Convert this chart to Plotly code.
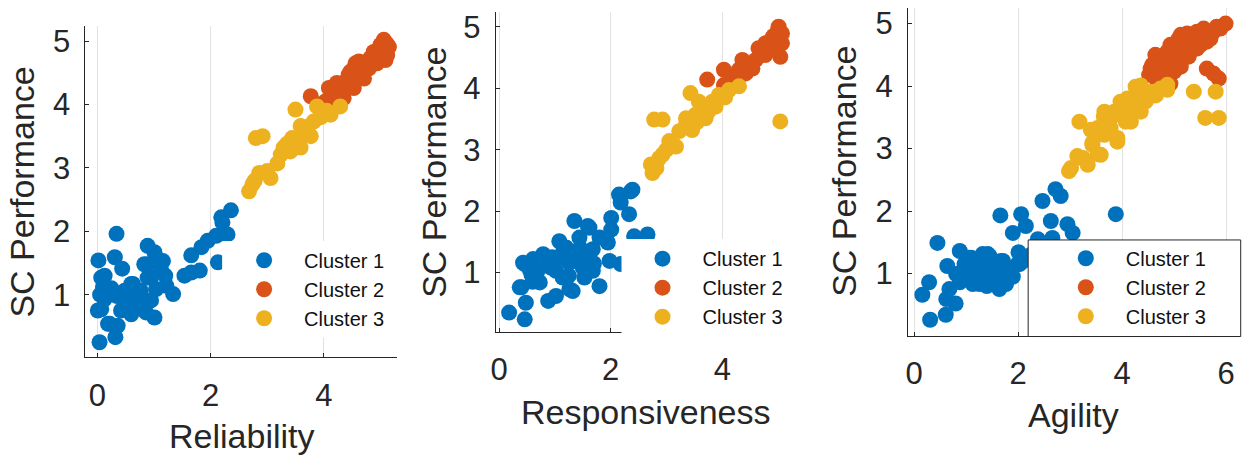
import plotly.graph_objects as go

# ---------------- data ----------------
clusters = ["Cluster 1", "Cluster 2", "Cluster 3"]
colors = ["#0072BD", "#D95319", "#EDB120"]
x_titles = ["Reliability", "Responsiveness", "Agility"]
y_title = "SC Performance"
x_ticks = [[0, 2, 4], [0, 2, 4], [0, 2, 4, 6]]
y_ticks = [1, 2, 3, 4, 5]

# Panel 1 : Reliability
rel_c1_x = [0.04,0.32,0.34,0.02,0.31,0.44,0.13,0.10,0.13,0.07,0.22,0.36,0.42,0.34,0.54,0.63,0.78,0.75,0.89,1.01,
            1.10,0.89,0.95,1.04,1.13,1.01,0.86,0.95,0.60,0.48,1.34,1.22,1.54,1.66,1.81,1.66,1.84,1.95,2.10,2.25,
            2.13,2.19,2.36,2.30,2.21,0.19,0.01,0.07,0.77,0.60,0.83,0.89,1.16,0.05,0.25,0.70,1.20,0.50]
rel_c1_y = [0.25,0.33,1.96,1.54,1.59,1.41,1.30,1.12,0.93,0.77,0.54,0.51,0.75,0.98,0.88,1.17,0.80,1.04,1.77,1.67,
            1.54,1.48,1.27,1.09,1.38,0.64,0.72,0.91,0.69,1.06,1.01,1.14,1.30,1.35,1.38,1.62,1.75,1.85,1.93,1.96,
            1.51,2.22,2.33,1.95,2.14,0.54,0.75,1.27,1.06,1.17,1.48,1.27,1.53,1.00,1.10,0.95,1.30,0.85]
rel_c2_x = [3.77,4.03,4.09,4.23,4.35,4.47,4.59,4.56,4.70,4.76,4.82,4.88,5.00,5.06,5.09,5.09,4.94,4.65,4.47,4.41,
            4.23,4.15,4.94,5.03,5.11,4.00,4.26,4.44,4.62,4.80,4.92,5.12,5.15,4.71,4.53,4.35,4.18,4.98,5.05,4.85]
rel_c2_y = [4.13,4.05,4.26,4.20,4.28,4.36,4.41,4.65,4.52,4.62,4.73,4.83,4.94,5.02,4.83,4.70,4.65,4.57,4.52,4.39,
            4.34,4.15,4.78,4.88,4.96,4.02,4.31,4.47,4.68,4.57,4.83,4.78,4.91,4.41,4.26,4.10,4.07,4.75,4.85,4.70]
rel_c3_x = [2.68,2.74,2.86,3.06,2.80,2.92,3.18,3.29,3.44,3.59,3.68,3.82,3.50,3.94,4.12,4.29,3.77,3.59,3.41,3.24,
            3.88,2.78,3.00,3.35,3.55,3.72,3.95,4.05,3.62,3.48]
rel_c3_y = [2.63,2.74,2.92,2.84,3.47,3.50,3.07,3.32,3.47,3.32,3.58,3.73,3.92,3.89,3.84,3.97,3.50,3.66,3.26,3.21,
            3.97,2.80,2.95,3.38,3.45,3.65,3.80,3.90,3.55,3.40]

# Panel 2 : Responsiveness
res_c1_x = [0.18,0.46,0.48,0.40,0.46,0.61,0.79,0.58,0.73,0.88,1.02,1.08,0.93,1.26,1.35,1.59,1.44,1.41,1.26,1.68,
            1.80,1.53,1.68,1.95,1.98,2.01,2.01,2.33,2.18,2.39,2.18,1.80,1.14,0.67,0.88,1.50,1.20,1.02,2.42,2.66,
            2.18,0.43,0.37,1.62,1.32,2.36,2.15,0.55,1.10,1.45,0.70,0.95,1.15,1.30,1.55,1.70,0.60,1.25]
res_c1_y = [0.35,0.24,0.51,0.76,1.14,1.22,1.30,0.97,0.84,0.54,0.62,1.51,1.08,0.73,1.84,1.76,1.57,1.24,1.16,1.03,
            0.78,0.92,1.38,1.49,1.19,1.89,1.70,1.95,2.24,2.35,2.14,1.57,0.92,0.97,1.14,1.08,1.41,1.03,1.59,1.62,
            1.14,1.16,0.76,1.73,0.70,2.32,2.27,1.05,1.25,1.40,1.05,1.25,1.35,1.20,1.30,1.15,0.85,0.95]
res_c2_x = [3.73,4.03,4.03,4.27,4.36,4.54,4.65,4.77,4.89,5.01,5.07,5.07,5.04,4.77,4.42,4.18,4.60,4.95,4.85,4.70,
            4.50,5.00,4.30,4.92]
res_c2_y = [4.14,4.30,4.05,4.11,4.46,4.32,4.65,4.54,4.81,5.00,4.89,4.73,4.51,4.73,4.24,4.19,4.46,4.65,4.70,4.60,
            4.40,4.95,4.30,4.85]
res_c3_x = [2.75,2.72,2.87,2.93,3.05,3.17,2.78,2.93,3.23,3.35,3.46,3.52,3.64,3.82,3.43,4.12,4.30,3.94,3.70,5.04,
            3.58,3.35,3.00,3.75,3.88,4.05,2.82,3.55]
res_c3_y = [2.62,2.76,2.86,2.92,3.14,3.05,3.49,3.49,3.30,3.41,3.32,3.57,3.68,3.78,3.92,3.97,4.03,3.89,3.51,3.46,
            3.78,3.51,3.00,3.62,3.70,3.85,2.70,3.45]

# Panel 3 : Agility
agi_c1_x = [0.31,0.61,0.16,0.29,0.80,0.62,0.45,0.64,0.88,0.88,1.13,1.00,1.32,1.45,1.20,1.58,1.64,1.77,1.83,1.71,
            2.03,2.01,1.66,2.06,2.15,1.90,2.38,2.47,2.72,2.82,2.63,2.95,3.05,2.66,1.39,0.81,1.26,0.68,3.88,0.97,
            1.23,1.42,1.48,1.67,1.80,1.29,1.04,1.99,2.55,1.10,1.05,1.15,1.35,1.55,1.75,1.90,1.60,1.40,0.95,2.10,2.25]
agi_c1_y = [0.26,0.34,0.66,0.86,0.52,0.59,1.49,1.12,1.36,0.86,0.83,1.04,1.31,1.28,1.20,1.04,0.75,0.83,0.99,1.20,
            1.15,1.34,1.93,1.95,1.76,1.65,1.55,2.16,2.35,2.24,1.84,1.79,1.65,1.57,0.94,0.99,0.83,0.75,1.95,1.15,
            1.15,1.31,1.10,1.20,0.99,0.88,0.94,1.15,1.45,1.25,1.25,0.95,1.05,1.15,1.10,0.95,0.90,0.80,0.95,1.20,1.30]
agi_c2_x = [4.68,4.58,4.64,4.93,5.00,4.93,5.09,5.25,5.44,5.57,5.76,5.99,5.28,5.13,5.44,5.63,5.63,5.86,4.52,4.80,
            5.82,5.05,5.20,5.35,4.75,4.90,5.50,5.70,4.74,4.87,5.06,5.19,5.38,5.00,4.74,4.55,5.32,5.51,5.70,5.89,
            5.13,4.68,5.76,4.87]
agi_c2_y = [4.07,4.34,4.50,4.04,4.23,4.66,4.76,4.84,4.87,4.92,4.87,5.00,4.47,4.31,4.60,4.71,4.28,4.12,4.18,4.39,
            4.95,4.55,4.65,4.75,4.25,4.45,4.80,4.85,4.39,4.55,4.60,4.68,4.76,4.42,4.20,4.28,4.55,4.66,4.76,4.92,
            4.82,4.47,4.20,4.12]
agi_c3_x = [2.98,3.14,3.34,3.18,3.43,3.59,3.40,3.65,3.85,3.91,4.07,4.17,4.20,4.36,4.26,4.52,4.87,3.97,3.78,3.51,
            5.38,5.80,5.60,5.86,4.36,4.65,4.00,3.70,4.45,3.25,4.29,4.10,4.49,4.61,4.74,4.36,4.17,3.79,3.66,3.53,
            3.91,3.43,3.66,3.21,3.53,3.02,4.04,4.29,4.87]
agi_c3_y = [2.64,2.88,2.74,3.43,3.09,2.90,3.30,3.51,3.59,3.17,3.43,3.54,3.80,3.70,3.99,3.91,3.94,3.75,3.33,3.22,
            3.91,3.91,3.49,3.49,4.01,3.85,3.62,3.45,3.75,2.85,3.96,3.80,3.80,3.91,3.96,3.59,3.43,3.49,3.59,3.33,
            3.11,3.06,3.22,2.85,2.91,2.69,3.65,3.75,4.02]

panels = [
    [(rel_c1_x, rel_c1_y), (rel_c2_x, rel_c2_y), (rel_c3_x, rel_c3_y)],
    [(res_c1_x, res_c1_y), (res_c2_x, res_c2_y), (res_c3_x, res_c3_y)],
    [(agi_c1_x, agi_c1_y), (agi_c2_x, agi_c2_y), (agi_c3_x, agi_c3_y)],
]

# ---------------- layout (pixel geometry -> paper fractions) ----------------
W, H = 1242, 457
FONT = "Liberation Sans, Arial, Helvetica, sans-serif"
INK = "#262626"

def px_x(p):
    return p / W

def px_y(p):
    return 1 - p / H

# plot-area boxes in pixels: left, right, top, bottom
boxes = [(80.7, 394.0, 24.0, 357.0), (492.7, 793.0, 10.0, 331.7), (906.7, 1238.0, 6.0, 335.0)]
x_ranges = [[-0.21, 5.30], [-0.06, 5.30], [-0.115, 6.23]]
y_ranges = [[0.01, 5.24], [0.03, 5.24], [0.007, 5.25]]
legend_pos = [(220, 239.8), (620, 238.2), (1045, 237.8)]
# white legend boxes (left, right, top, bottom) and whether they are framed
legend_boxes = [(218.0, 392.0, 240.0, 337.0, False), (619.0, 800.0, 238.0, 340.0, False),
                (1027.3, 1240.7, 239.0, 336.0, True)]
xtitle_pos = [(238.0, 436.0), (642.7, 411.5), (1072.5, 415.0)]
ytitle_pos = [(17.0, 190.5), (430.5, 170.8), (842.5, 170.5)]

fig = go.Figure()
layout = dict(
    width=W, height=H,
    margin=dict(l=0, r=0, t=0, b=0),
    paper_bgcolor="white", plot_bgcolor="white",
    font=dict(family=FONT, color=INK),
    annotations=[], shapes=[],
)

for i in range(3):
    sfx = "" if i == 0 else str(i + 1)
    leg = "legend" + sfx
    for k in range(3):
        xs, ys = panels[i][k]
        fig.add_trace(go.Scatter(
            x=xs, y=ys, mode="markers", name=clusters[k],
            marker=dict(color=colors[k], size=16, line=dict(width=0)),
            xaxis="x" + sfx, yaxis="y" + sfx, legend=leg, showlegend=True,
        ))
    l, r, t, b = boxes[i]
    layout["xaxis" + sfx] = dict(
        domain=[px_x(l), px_x(r)], range=x_ranges[i], anchor="y" + sfx,
        tickvals=x_ticks[i], ticks="inside", ticklen=4, tickcolor=INK, tickwidth=1,
        showline=True, linecolor=INK, linewidth=1, mirror=False,
        showgrid=True, gridcolor="#e2e2e2", gridwidth=1, zeroline=False,
        tickfont=dict(size=31, color=INK, family=FONT), ticklabelstandoff=10,
    )
    layout["yaxis" + sfx] = dict(
        domain=[px_y(b), px_y(t)], range=y_ranges[i], anchor="x" + sfx,
        tickvals=y_ticks, ticks="inside", ticklen=4, tickcolor=INK, tickwidth=1,
        showline=True, linecolor=INK, linewidth=1, mirror=False,
        showgrid=False, zeroline=False,
        tickfont=dict(size=31, color=INK, family=FONT), ticklabelstandoff=8,
    )
    lx, ly = legend_pos[i]
    layout[leg] = dict(
        x=px_x(lx), y=px_y(ly), xanchor="left", yanchor="top",
        bgcolor="rgba(0,0,0,0)", borderwidth=0, itemwidth=70,
        font=dict(size=20, color="#111111", family=FONT),
    )
    bl, br, bt, bb, framed = legend_boxes[i]
    layout["shapes"].append(dict(
        type="rect", xref="paper", yref="paper", layer="above",
        x0=px_x(bl), x1=px_x(br), y0=px_y(bb), y1=px_y(bt),
        line=dict(color=INK if framed else "rgba(0,0,0,0)", width=1 if framed else 0),
        fillcolor="white",
    ))
    tx, ty = xtitle_pos[i]
    layout["annotations"].append(dict(
        text=x_titles[i], x=px_x(tx), y=px_y(ty), xref="paper", yref="paper",
        xanchor="center", yanchor="middle", showarrow=False,
        font=dict(size=34, color=INK, family=FONT),
    ))
    yx, yy = ytitle_pos[i]
    layout["annotations"].append(dict(
        text=y_title, x=px_x(yx), y=px_y(yy), xref="paper", yref="paper",
        xanchor="center", yanchor="middle", showarrow=False, textangle=-90,
        font=dict(size=34, color=INK, family=FONT),
    ))

fig.update_layout(**layout)
fig.write_html(
    "out.html",
    config={"displayModeBar": False},
    post_script="document.body.style.margin='0';document.body.style.padding='0';"
                "document.body.style.overflow='hidden';",
)
